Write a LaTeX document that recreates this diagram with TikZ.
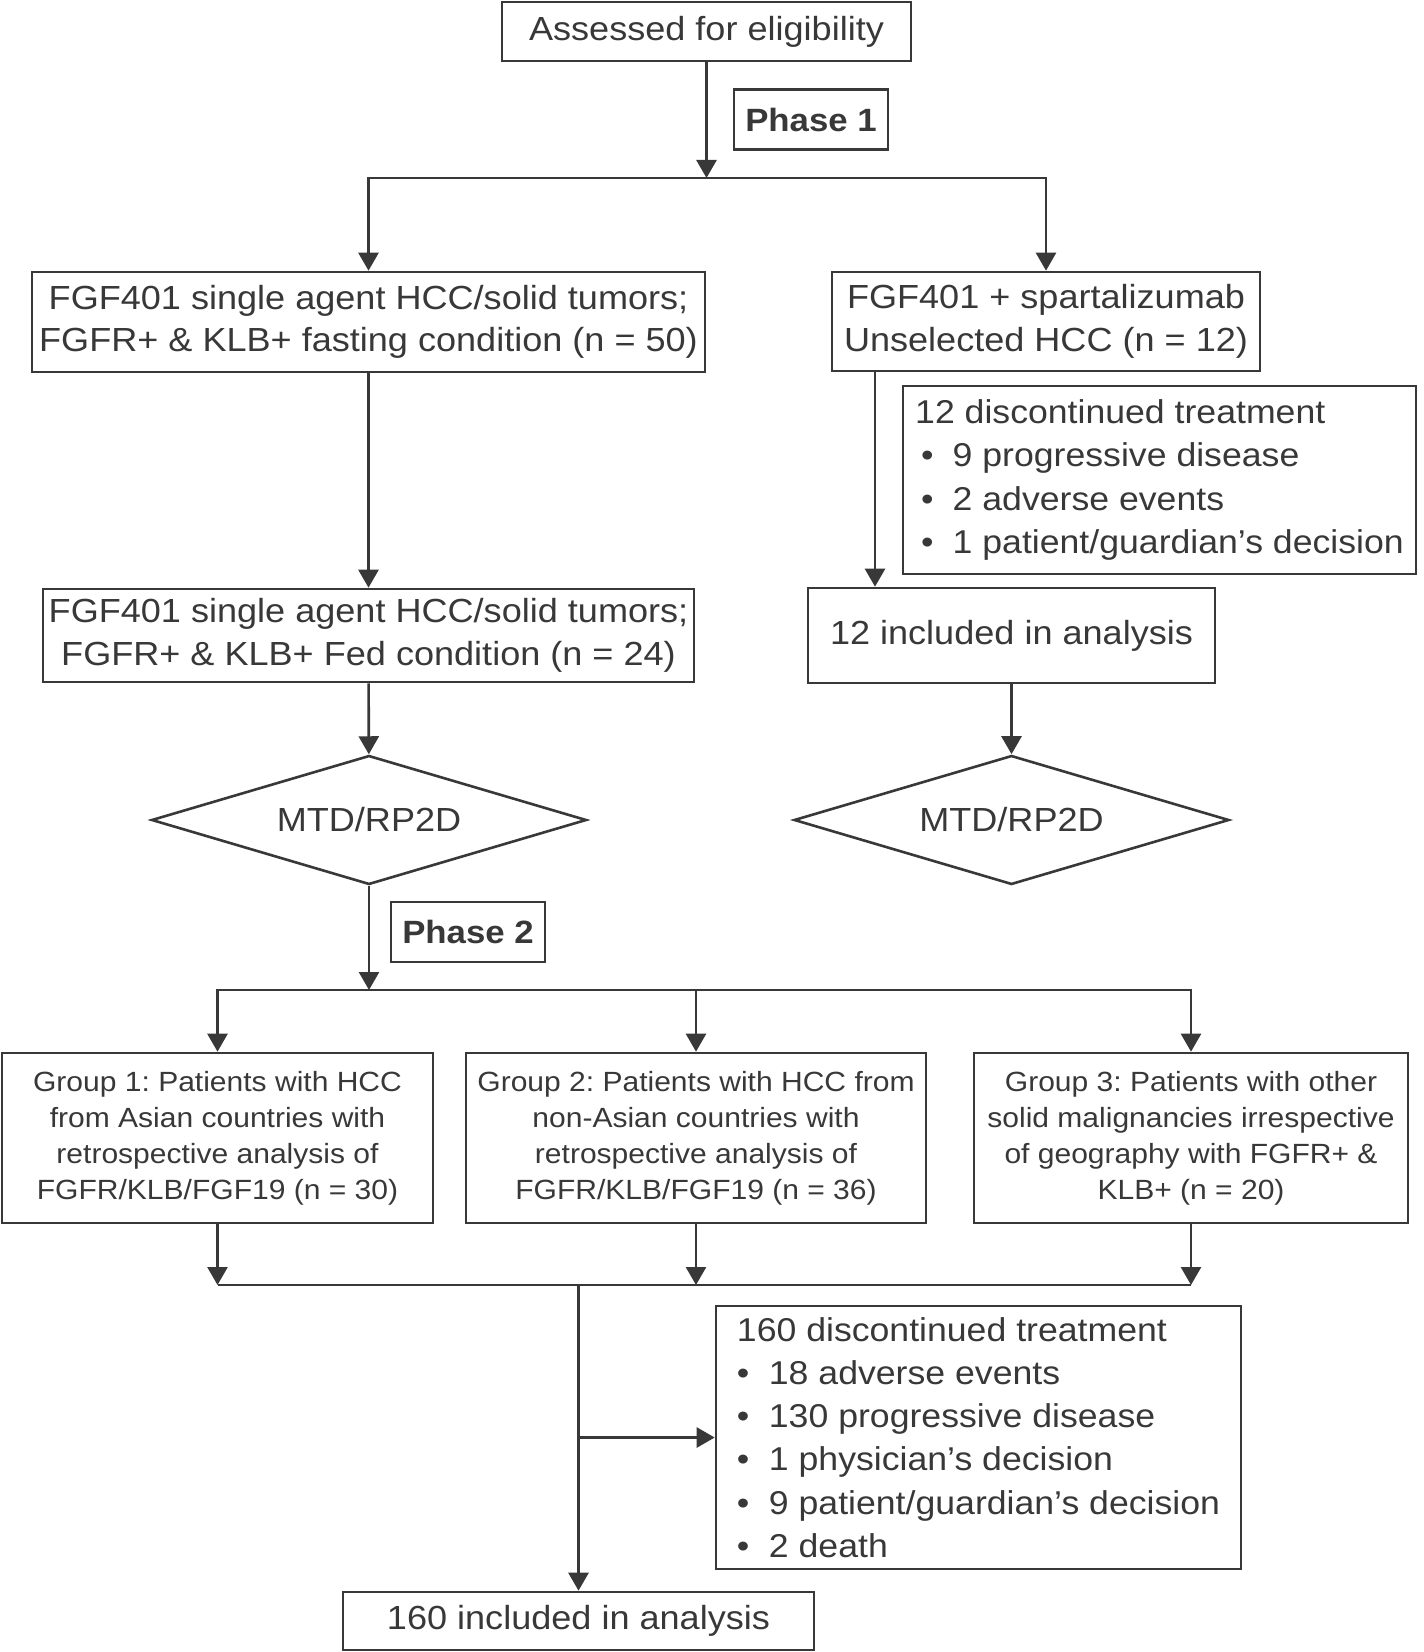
\documentclass[tikz,border=0pt]{standalone}
\usepackage{fontspec}
\setmainfont{Liberation Sans}[FakeStretch=1.08]
\usetikzlibrary{shapes.geometric,arrows.meta,calc}
\definecolor{ink}{HTML}{383838}
\newcommand{\bul}[1][16pt]{\makebox[#1][l]{\textbullet}}
\frenchspacing

\begin{document}
\begin{tikzpicture}[
    x=0.5pt, y=-0.5pt,
    flowbox/.style={rectangle, draw=ink, text=ink, line width=1.3pt, align=center, inner sep=2pt,
        font=\fontsize{16.7pt}{21.25pt}\selectfont},
    listbox/.style={flowbox, align=left, font=\fontsize{16.5pt}{21.65pt}\selectfont},
    groupbox/.style={flowbox, minimum height=85pt, font=\fontsize{13.9pt}{18pt}\selectfont},
    phasebox/.style={flowbox, minimum width=77pt, minimum height=30pt,
        font=\bfseries\fontsize{16.1pt}{19pt}\selectfont},
    decision/.style={diamond, draw=ink, text=ink, line width=1.3pt, inner sep=0pt, shape aspect=3.37,
        minimum width=217.5pt, minimum height=64.5pt, font=\fontsize{16.7pt}{19.15pt}\selectfont},
    link/.style={-{Triangle[width=10pt,length=9pt]}, draw=ink, line width=1.3pt},
    twolink/.style={{Triangle[width=10pt,length=9pt]}-{Triangle[width=10pt,length=9pt]}, draw=ink, line width=1.3pt}
]
    \useasboundingbox (0,0) rectangle (1423,1652);

    % Screening
    \node[flowbox, minimum width=204.5pt, minimum height=29.5pt] (assess) at (706.5,31.5) {Assessed for eligibility};
    \node[phasebox] (phase1) at (811,119.5) {Phase 1};
    \coordinate (split1) at (706.5,178);

    % Phase 1 arms
    \node[flowbox, minimum width=336.5pt, minimum height=50pt] (fast) at (368.5,322)
        {FGF401 single agent HCC/solid tumors;\\FGFR+ \& KLB+ fasting condition (n = 50)};
    \node[flowbox, minimum width=214pt, minimum height=49.5pt] (combo) at (1046,321.5)
        {FGF401 + spartalizumab\\Unselected HCC (n = 12)};
    \node[flowbox, minimum width=325.5pt, minimum height=46.5pt] (fed) at (368.5,635.5)
        {FGF401 single agent HCC/solid tumors;\\FGFR+ \& KLB+ Fed condition (n = 24)};
    \node[listbox, minimum width=256.5pt, minimum height=94pt] (stop12) at (1159.5,480)
        {12 discontinued treatment\\
         \hspace*{3pt}\bul[15.75pt]9 progressive disease\\
         \hspace*{3pt}\bul[15.75pt]2 adverse events\\
         \hspace*{3pt}\bul[15.75pt]1 patient/guardian’s decision};
    \node[flowbox, minimum width=203.5pt, minimum height=47.5pt] (incl12) at (1011.5,635.5) {12 included in analysis};
    \node[decision] (mtdA) at (369,820) {MTD/RP2D};
    \node[decision] (mtdB) at (1011.5,820) {MTD/RP2D};

    % Phase 2 groups
    \node[phasebox] (phase2) at (468,932) {Phase 2};
    \coordinate (split2) at (369,990);
    \node[groupbox, minimum width=215.5pt] (grp1) at (217.5,1138)
        {Group 1: Patients with HCC\\from Asian countries with\\retrospective analysis of\\FGFR/KLB/FGF19 (n = 30)};
    \node[groupbox, minimum width=230pt] (grp2) at (696,1138)
        {Group 2: Patients with HCC from\\non-Asian countries with\\retrospective analysis of\\FGFR/KLB/FGF19 (n = 36)};
    \node[groupbox, minimum width=217pt] (grp3) at (1191,1138)
        {Group 3: Patients with other\\solid malignancies irrespective\\of geography with FGFR+ \&\\KLB+ (n = 20)};

    % Outcome
    \coordinate (merge) at (578.5,1285);
    \node[listbox, minimum width=262.5pt, minimum height=131.5pt] (stop160) at (978.5,1437.5)
        {160 discontinued treatment\\
         \bul 18 adverse events\\
         \bul 130 progressive disease\\
         \bul 1 physician’s decision\\
         \bul 9 patient/guardian’s decision\\
         \bul 2 death};
    \node[flowbox, minimum width=235.5pt, minimum height=29pt] (incl160) at (578.5,1621) {160 included in analysis};

    % Arrows
    \coordinate (drop) at (875,0);
    \draw[link] (assess) -- (split1);
    \draw[twolink] (fast.north) |- (split1) -| (combo.north);
    \draw[link] (fast) -- (fed);
    \draw[link] (combo.south -| drop) -- (incl12.north -| drop);
    \draw[link] (fed) -- (mtdA);
    \draw[link] (incl12) -- (mtdB);
    \draw[link] (mtdA) -- (split2);
    \draw[twolink] (grp1.north) -- (grp1.north |- split2) -- (grp3.north |- split2) -- (grp3.north);
    \draw[link] (grp2.north |- split2) -- (grp2.north);
    \foreach \g in {grp1,grp2,grp3}
        \draw[link] (\g) -- (\g.south |- merge);
    \draw[draw=ink, line width=1.3pt] (grp1.south |- merge) -- (grp3.south |- merge);
    \draw[link] (merge) -- (incl160);
    \draw[link] (merge |- stop160.west) -- (stop160.west);

\end{tikzpicture}
\end{document}
